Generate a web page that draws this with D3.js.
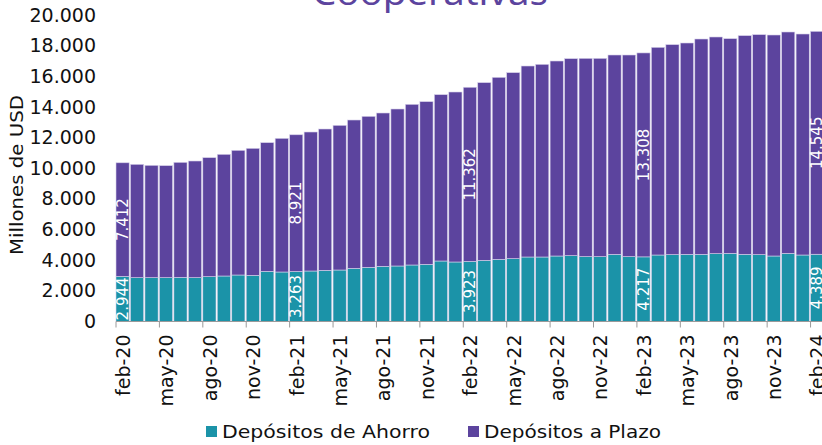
<!DOCTYPE html>
<html><head><meta charset="utf-8">
<script src="https://cdn.jsdelivr.net/npm/d3@7"></script>
<style>
html,body{margin:0;padding:0;background:#fff;overflow:hidden;}
svg{display:block;font-family:"DejaVu Sans",sans-serif;}
</style></head>
<body>
<svg id="c" width="822" height="445"></svg>
<script>
const monthNames = ["ene","feb","mar","abr","may","jun","jul","ago","sep","oct","nov","dic"];
const months = [];
for (let i = 0; i < 49; i++) { const m = (1 + i) % 12; const y = 20 + Math.floor((1 + i) / 12); months.push(monthNames[m] + "-" + y); }

const ahorro = [2944,2860,2860,2860,2882,2860,2925,2969,3034,3013,3274,3230,
  3263,3295,3339,3360,3469,3535,3600,3622,3687,3730,3948,3883,
  3923,3992,4057,4100,4209,4209,4274,4296,4231,4231,4383,4231,
  4217,4339,4361,4383,4383,4426,4448,4383,4361,4274,4448,4339,
  4389];
const plazo = [7412,7396,7331,7309,7504,7613,7766,7939,8135,8287,8395,8722,
  8921,9070,9222,9440,9679,9853,10005,10244,10484,10615,10853,11092,
  11362,11593,11876,12137,12463,12572,12724,12855,12941,12941,13007,13159,
  13308,13552,13704,13790,14051,14139,14008,14269,14356,14421,14443,14421,
  14545];
const yTicks = [0,2000,4000,6000,8000,10000,12000,14000,16000,18000,20000];
const labelIdx = [0,12,24,36,48];
const seriesNames = ["Depósitos de Ahorro","Depósitos a Plazo"];
const colors = ["#1b93a8","#5c449e"];

const fmt = v => d3.format(",")(v).replace(/,/g, ".");
const svg = d3.select("#c");
const x = d3.scaleBand().domain(months).range([116, 116 + 49 * 14.47]).paddingInner(0.09).paddingOuter(0.045);
const y = d3.scaleLinear().domain([0, 20000]).range([321.5, 15]);

const data = months.map((m, i) => ({ m, ahorro: ahorro[i], plazo: plazo[i] }));
const stack = d3.stack().keys(["ahorro", "plazo"])(data);

// title
svg.append("text").attr("x", 430).attr("y", 5).attr("text-anchor", "middle")
  .attr("font-size", 34).attr("fill", "#5c449e").attr("textLength", 236).attr("lengthAdjust", "spacingAndGlyphs")
  .attr("font-family", "Noto Sans")
  .text("Cooperativas");

// bars
const band = x.step();
stack.forEach((s, si) => {
  svg.append("g").selectAll("rect").data(s).join("rect")
    .attr("x", d => 116 + months.indexOf(d.data.m) * band)
    .attr("width", x.bandwidth())
    .attr("y", d => y(d[1]))
    .attr("height", d => y(d[0]) - y(d[1]))
    .attr("fill", colors[si])
    .attr("stroke", "#d6d0ea").attr("stroke-width", 0.6);
});

// data labels
stack.forEach((s, si) => {
  svg.append("g").selectAll("text").data(labelIdx.map(i => s[i])).join("text")
    .attr("transform", d => {
      const cx = 116 + months.indexOf(d.data.m) * band + x.bandwidth() / 2;
      const cy = (y(d[0]) + y(d[1])) / 2;
      return `translate(${cx},${cy}) rotate(-90)`;
    })
    .attr("text-anchor", "middle").attr("dy", "0.35em")
    .attr("font-size", 15).attr("fill", "#fff")
    .text(d => fmt(d[1] - d[0]));
});

// y axis
const yAxis = d3.axisLeft(y).tickValues(yTicks).tickSize(0).tickPadding(0).tickFormat(fmt);
const gy = svg.append("g").attr("transform", "translate(96,0)").call(yAxis);
gy.select(".domain").remove();
gy.selectAll("text").attr("font-size", 19).attr("fill", "#111").attr("font-family", "DejaVu Sans");

svg.append("text").attr("transform", "translate(23,175) rotate(-90)").attr("text-anchor", "middle")
  .attr("font-size", 18).attr("fill", "#111")
  .attr("textLength", 160).attr("lengthAdjust", "spacingAndGlyphs").text("Millones de USD");

// x axis
const base = y(0);
svg.append("line").attr("x1", 116).attr("x2", 116 + 49 * band).attr("y1", base).attr("y2", base)
  .attr("stroke", "#9a9a9a").attr("stroke-width", 1);
const tickMonths = months.filter((m, i) => i % 3 === 0);
svg.append("g").selectAll("line").data(tickMonths).join("line")
  .attr("x1", m => 116 + months.indexOf(m) * band).attr("x2", m => 116 + months.indexOf(m) * band)
  .attr("y1", base).attr("y2", base + 6).attr("stroke", "#9a9a9a").attr("stroke-width", 1);
svg.append("g").selectAll("text").data(tickMonths).join("text")
  .attr("transform", m => `translate(${116 + months.indexOf(m) * band + band / 2},${base + 13}) rotate(-90)`)
  .attr("text-anchor", "end").attr("dy", "0.35em")
  .attr("font-size", 19).attr("fill", "#111").text(m => m);

// legend
const lg = svg.append("g");
const legX = [206, 468];
const legW = [208, 177];
seriesNames.forEach((n, i) => {
  lg.append("rect").attr("x", legX[i]).attr("y", 426).attr("width", 11).attr("height", 11).attr("fill", colors[i]);
  lg.append("text").attr("x", legX[i] + 16).attr("y", 432).attr("dy", "0.35em")
    .attr("font-size", 18).attr("fill", "#111")
    .attr("textLength", legW[i]).attr("lengthAdjust", "spacingAndGlyphs").text(n);
});
</script>
</body></html>
